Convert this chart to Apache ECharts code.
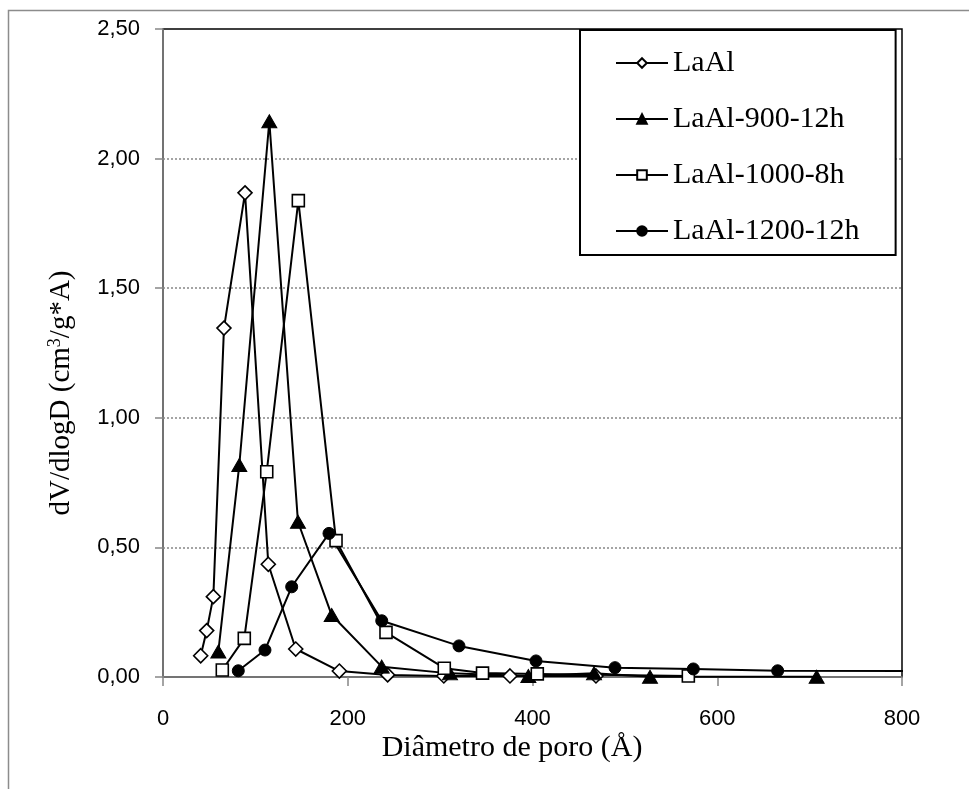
<!DOCTYPE html>
<html>
<head>
<meta charset="utf-8">
<script src="https://cdn.jsdelivr.net/npm/echarts@6/dist/echarts.min.js"></script>
<style>
html,body{margin:0;padding:0;background:#fff;}
#c{width:969px;height:789px;}
</style>
</head>
<body>
<div id="c"></div>
<script>
// Data (x = pore diameter Å, y = dV/dlogD)
const seriesNames = ['LaAl', 'LaAl-900-12h', 'LaAl-1000-8h', 'LaAl-1200-12h'];

const laalX = [40.8, 47.3, 54.5, 66.0, 88.8, 114.0, 143.7, 190.9, 243.2, 304, 375.6, 468.7];
const laalY = [0.082, 0.179, 0.310, 1.346, 1.868, 0.435, 0.108, 0.023, 0.008, 0.004, 0.004, 0.004];

const la900X = [59.9, 82.6, 115.1, 146.1, 182.6, 236.8, 310.7, 395.5, 466.6, 527.2, 707.6];
const la900Y = [0.098, 0.818, 2.144, 0.599, 0.239, 0.040, 0.014, 0.004, 0.014, 0.001, 0.001];

const la1000X = [64.2, 88.0, 112.3, 146.5, 187.3, 241.4, 304.5, 345.9, 405.2, 568.7];
const la1000Y = [0.027, 0.149, 0.792, 1.838, 0.526, 0.172, 0.034, 0.015, 0.012, 0.004];

const la1200X = [81.5, 110.4, 139.3, 179.7, 236.8, 320.4, 403.8, 489.3, 574.1, 665.4, 900];
const la1200Y = [0.024, 0.104, 0.348, 0.554, 0.217, 0.120, 0.062, 0.036, 0.031, 0.024, 0.022];

const xTicks = [0, 200, 400, 600, 800];
const yTicks = [0, 0.5, 1.0, 1.5, 2.0, 2.5];

const xTitle = 'Diâmetro de poro (Å)';
const yTitleRich = '{n|dV/dlogD (cm}{s|3}{n|/g*A)}';

function pairs(xs, ys) { return xs.map((x, i) => [x, ys[i]]); }

const SANS = '"Liberation Sans", Arial, sans-serif';
const SERIF = '"Liberation Serif", "Times New Roman", serif';
const GRAY = '#868686';

const chart = echarts.init(document.getElementById('c'), null, {renderer: 'canvas'});

const baseSeries = (name, data, symbol, size, filled) => ({
  name: name,
  type: 'line',
  data: data,
  symbol: symbol,
  symbolSize: size,
  showAllSymbol: true,
  clip: true,
  lineStyle: {color: '#000', width: 2},
  itemStyle: filled
    ? {color: '#000', borderColor: '#000', borderWidth: 1}
    : {color: '#fff', borderColor: '#000', borderWidth: 1.6},
  emphasis: {disabled: true},
  animation: false
});

chart.setOption({
  animation: false,
  backgroundColor: '#fff',
  graphic: [{
    type: 'rect',
    shape: {x: 8.5, y: 10.5, width: 1100, height: 1000},
    style: {fill: 'none', stroke: '#8c8c8c', lineWidth: 1.5},
    silent: true, z: 0
  }, {
    type: 'text',
    x: 512, y: 748,
    style: {
      text: xTitle, font: '30px ' + SERIF, fill: '#000',
      textAlign: 'center', textVerticalAlign: 'middle', align: 'center', verticalAlign: 'middle'
    },
    silent: true
  }, {
    type: 'text',
    x: 61, y: 393,
    rotation: Math.PI / 2,
    style: {
      text: yTitleRich,
      rich: {
        n: {fontFamily: SERIF, fontSize: 29, color: '#000', fill: '#000'},
        s: {fontFamily: SERIF, fontSize: 18, color: '#000', fill: '#000', verticalAlign: 'top', padding: [0, 0, 12, 0]}
      },
      textAlign: 'center', textVerticalAlign: 'middle', align: 'center', verticalAlign: 'middle'
    },
    silent: true
  }],
  grid: {
    left: 163, right: 67, top: 29, bottom: 112,
    show: true, borderColor: '#000', borderWidth: 1.5, backgroundColor: 'transparent'
  },
  legend: {
    orient: 'vertical',
    left: 580, top: 30,
    padding: [18, 36, 9, 35],
    itemWidth: 52, itemHeight: 12, itemGap: 26,
    borderColor: '#000', borderWidth: 2, backgroundColor: '#fff',
    textStyle: {fontFamily: SERIF, fontSize: 30, color: '#000'},
    data: seriesNames,
    z: 10
  },
  xAxis: {
    type: 'value', min: xTicks[0], max: xTicks[xTicks.length - 1], interval: 200,
    axisLine: {show: true, lineStyle: {color: GRAY, width: 1.5}},
    axisTick: {show: true, inside: false, length: 9, lineStyle: {color: GRAY, width: 1.5}},
    axisLabel: {fontFamily: SANS, fontSize: 22, color: '#000', margin: 31},
    splitLine: {show: false}
  },
  yAxis: {
    type: 'value', min: yTicks[0], max: yTicks[yTicks.length - 1], interval: 0.5,
    axisLine: {show: true, lineStyle: {color: GRAY, width: 1.5}},
    axisTick: {show: true, inside: false, length: 8, lineStyle: {color: GRAY, width: 1.5}},
    axisLabel: {
      fontFamily: SANS, fontSize: 22, color: '#000', margin: 23,
      formatter: v => v.toFixed(2).replace('.', ',')
    },
    splitLine: {show: true, showMaxLine: false, showMinLine: false,
      lineStyle: {color: GRAY, width: 1.5, type: [2, 2]}}
  },
  series: [
    baseSeries(seriesNames[0], pairs(laalX, laalY), 'diamond', [14, 14], false),
    baseSeries(seriesNames[1], pairs(la900X, la900Y), 'triangle', [15, 13], true),
    baseSeries(seriesNames[2], pairs(la1000X, la1000Y), 'rect', [12, 12], false),
    baseSeries(seriesNames[3], pairs(la1200X, la1200Y), 'circle', 12, true)
  ]
});
</script>
</body>
</html>
